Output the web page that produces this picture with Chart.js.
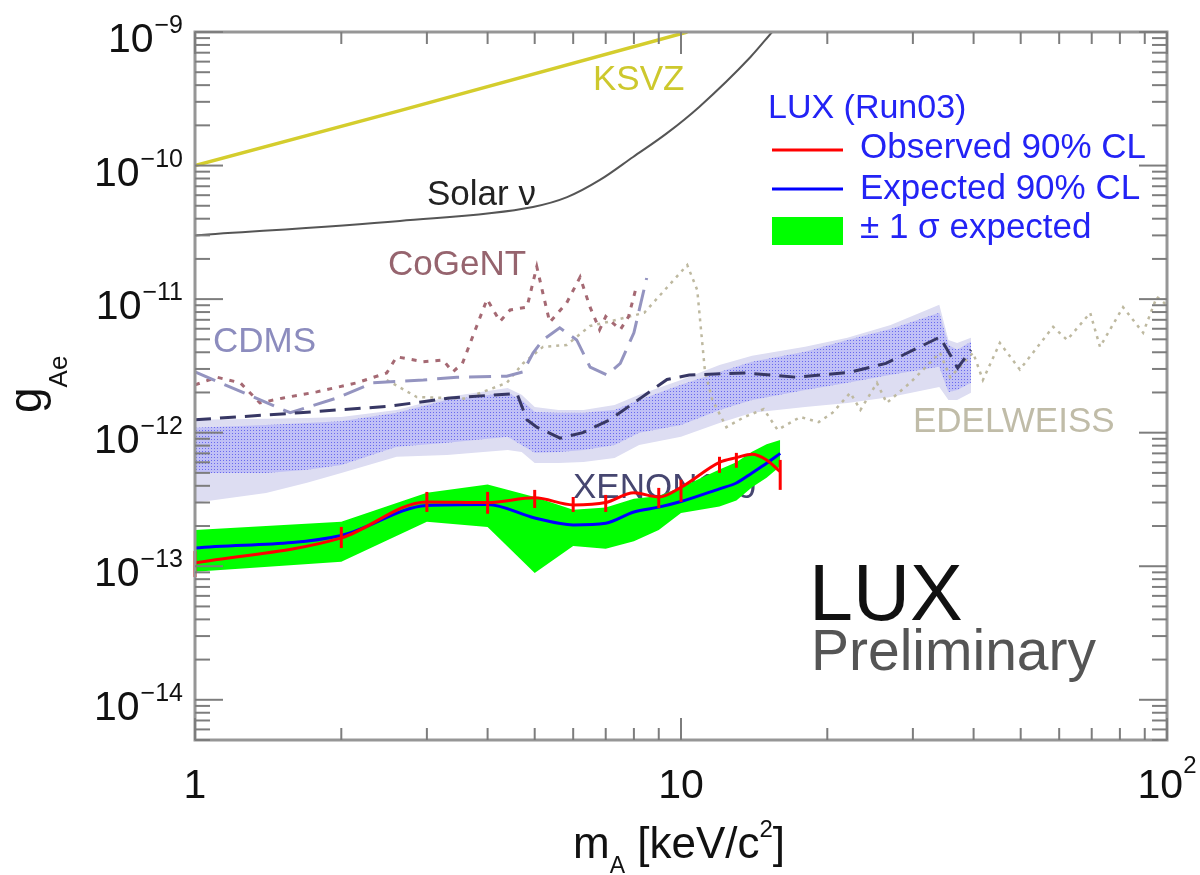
<!DOCTYPE html>
<html>
<head>
<meta charset="utf-8">
<script src="https://cdn.jsdelivr.net/npm/chart.js@4.4.0/dist/chart.umd.min.js"></script>
<style>
  html, body { margin: 0; padding: 0; background: #fff; }
  #wrap { width: 1200px; height: 875px; }
</style>
</head>
<body>
<div id="wrap"><canvas id="chart" width="1200" height="875"></canvas></div>
<script>
// values: mass m_A in keV/c^2, coupling g_Ae

// LUX Run03
const luxMass     = [1, 2, 3, 4, 5, 6, 7, 8, 9, 10, 12, 13, 14, 15, 16];
const luxObserved = [1.06e-13, 1.63e-13, 3.03e-13, 3.0e-13, 3.25e-13, 2.88e-13, 3.0e-13, 3.55e-13, 3.3e-13, 3.9e-13, 6.0e-13, 6.5e-13, 6.9e-13, 6.25e-13, 5.1e-13];
const luxObsLow   = [8.3e-14, 1.37e-13, 2.55e-13, 2.47e-13, 2.73e-13, 2.55e-13, 2.55e-13, null, 2.73e-13, 3.03e-13, 5.0e-13, 5.46e-13, null, null, 3.73e-13];
const luxObsHigh  = [1.30e-13, 1.97e-13, 3.6e-13, 3.6e-13, 3.73e-13, 3.3e-13, 3.42e-13, null, 3.86e-13, 4.44e-13, 6.6e-13, 7.06e-13, null, null, 6.25e-13];
const luxExpected = [1.37e-13, 1.7e-13, 2.85e-13, 2.9e-13, 2.3e-13, 2.04e-13, 2.1e-13, 2.55e-13, 2.77e-13, 3.05e-13, 3.8e-13, 4.2e-13, 5.0e-13, 5.9e-13, 7.0e-13];
const luxBandHigh = [1.87e-13, 2.15e-13, 3.55e-13, 4.1e-13, 3.3e-13, 2.65e-13, 2.75e-13, 3.2e-13, 3.35e-13, 3.9e-13, 5.3e-13, 6.0e-13, 7.2e-13, 8.2e-13, 8.8e-13];
const luxBandLow  = [9.1e-14, 1.08e-13, 2.15e-13, 1.97e-13, 8.9e-14, 1.42e-13, 1.35e-13, 1.54e-13, 1.87e-13, 2.5e-13, 2.8e-13, 3.1e-13, 3.9e-13, 4.6e-13, 5.6e-13];

// KSVZ and solar neutrino bound
const ksvzMass  = [1, 2.64, 10.3];
const ksvzG     = [1.0e-10, 2.58e-10, 1.0e-9];
const solarMass = [1, 2.64, 4.96, 5.83, 6.81, 7.97, 9.36, 10.9, 13.9, 15.4];
const solarG    = [3.0e-11, 3.85e-11, 4.9e-11, 5.8e-11, 7.8e-11, 1.16e-10, 1.75e-10, 2.75e-10, 6.5e-10, 1.0e-9];

// XENON100 limit and its bands
const xenonMass = [1, 1.64, 2.52, 3.35, 4.45, 4.6, 4.82, 5.05, 5.64, 6.28, 7.14, 8.16, 9.36, 10.4, 13.5, 17.3, 22.2, 26.4, 34.1, 37.1, 39.5];
const xenonG    = [1.25e-12, 1.41e-12, 1.58e-12, 1.82e-12, 1.95e-12, 1.95e-12, 1.25e-12, 1.1e-12, 9.1e-13, 1.0e-12, 1.25e-12, 1.76e-12, 2.5e-12, 2.7e-12, 2.8e-12, 2.6e-12, 2.83e-12, 3.3e-12, 5.2e-12, 3.05e-12, 4.17e-12];
const bandMass  = [1, 1.4, 1.7, 2, 2.6, 3.3, 4.4, 4.7, 5, 5.6, 6.3, 7.3, 8.2, 10, 12, 14, 18, 22, 27, 34, 35.5, 37, 39.5];
const outerHigh = [1.25e-12, 1.27e-12, 1.29e-12, 1.31e-12, 1.48e-12, 1.85e-12, 2.16e-12, 1.92e-12, 1.56e-12, 1.48e-12, 1.48e-12, 1.61e-12, 1.92e-12, 2.48e-12, 3.21e-12, 3.76e-12, 4.39e-12, 5.13e-12, 6.41e-12, 9.06e-12, 4.95e-12, 4.70e-12, 5.13e-12];
const outerLow  = [2.99e-13, 3.54e-13, 4.21e-13, 5.0e-13, 6.59e-13, 6.82e-13, 7.43e-13, 7.18e-13, 5.94e-13, 5.94e-13, 6.04e-13, 6.47e-13, 8.1e-13, 9.31e-13, 1.18e-12, 1.41e-12, 1.56e-12, 1.67e-12, 1.85e-12, 2.20e-12, 1.76e-12, 1.76e-12, 1.99e-12];
const innerHigh = [1.09e-12, 1.14e-12, 1.18e-12, 1.22e-12, 1.41e-12, 1.76e-12, 1.99e-12, 1.76e-12, 1.43e-12, 1.41e-12, 1.41e-12, 1.48e-12, 1.76e-12, 2.28e-12, 2.85e-12, 3.39e-12, 4.03e-12, 4.95e-12, 5.98e-12, 7.89e-12, 4.54e-12, 4.17e-12, 4.79e-12];
const innerLow  = [5.0e-13, 5.0e-13, 5.27e-13, 5.74e-13, 7.83e-13, 8.4e-13, 9.31e-13, 8.1e-13, 7.06e-13, 7.18e-13, 7.43e-13, 8.1e-13, 9.98e-13, 1.14e-12, 1.48e-12, 1.76e-12, 2.09e-12, 2.36e-12, 2.71e-12, 3.11e-12, 2.02e-12, 2.09e-12, 2.36e-12];

// CDMS, CoGeNT, EDELWEISS
const cdmsMass   = [1, 1.57, 1.96, 2.32, 2.95, 3.46, 4.38, 4.73, 4.96, 5.2, 5.63, 6.1, 6.5, 7.04, 7.5, 8.0, 8.5];
const cdmsG      = [2.85e-12, 1.41e-12, 1.82e-12, 2.36e-12, 2.48e-12, 2.6e-12, 2.65e-12, 2.85e-12, 3.95e-12, 4.95e-12, 6.1e-12, 4.95e-12, 3.1e-12, 2.71e-12, 3.3e-12, 5.6e-12, 1.44e-11];
const cogentMass = [1, 1.11, 1.24, 1.36, 1.52, 1.78, 2.15, 2.48, 2.6, 2.95, 3.24, 3.39, 3.55, 3.8, 3.99, 4.24, 4.45, 4.82, 5.05, 5.2, 5.37, 5.82, 6.2, 6.5, 6.8, 7.0, 7.5, 7.8, 8.1];
const cogentG    = [2.28e-12, 2.6e-12, 2.36e-12, 1.67e-12, 1.82e-12, 2.02e-12, 2.36e-12, 2.8e-12, 3.7e-12, 3.4e-12, 3.5e-12, 2.85e-12, 3.3e-12, 6.3e-12, 1.0e-11, 6.8e-12, 8.3e-12, 8.7e-12, 1.75e-11, 1.1e-11, 6.7e-12, 9.4e-12, 1.46e-11, 8.7e-12, 5.9e-12, 7.4e-12, 5.9e-12, 7.4e-12, 1.25e-11];
const edelMass   = [2.48, 2.86, 3.6, 4.38, 4.73, 5.2, 5.82, 6.5, 7.14, 8.4, 10.3, 10.8, 11.2, 11.6, 12.4, 13.5, 14.8, 15.8, 17.6, 19.2, 20.5, 22.3, 23.4, 25.3, 26.5, 29.6, 34.1, 35.8, 39.9, 41.8, 45.3, 49.8, 58.3, 62.3, 69.5, 72.8, 81.2, 89.3, 95.3, 100];
const edelG      = [2.48e-12, 1.85e-12, 1.8e-12, 2.36e-12, 3.3e-12, 4.39e-12, 4.54e-12, 6.3e-12, 6.8e-12, 7.9e-12, 1.8e-11, 1.17e-11, 2.9e-12, 1.76e-12, 1.1e-12, 1.31e-12, 1.5e-12, 1.05e-12, 1.31e-12, 1.2e-12, 1.41e-12, 1.99e-12, 1.48e-12, 2.36e-12, 1.67e-12, 2.36e-12, 3.97e-12, 2.6e-12, 3.97e-12, 2.48e-12, 4.7e-12, 2.97e-12, 6.2e-12, 4.95e-12, 7.89e-12, 4.39e-12, 8.7e-12, 5.6e-12, 1.04e-11, 9.0e-12];

// axis labels
const xLabelTicks = [1, 10, 100];
const xLabelText  = [['1', ''], ['10', ''], ['10', '2']];
const yLabelTicks = [1e-14, 1e-13, 1e-12, 1e-11, 1e-10, 1e-9];
const yLabelExp   = ['\u221214', '\u221213', '\u221212', '\u221211', '\u221210', '\u22129'];

const FONT = '"Liberation Sans", Arial, Helvetica, sans-serif';
const font = px => px + 'px ' + FONT;
const pts = (xs, ys) => xs.map((x, i) => ({x, y: ys[i]}));

const canvas = document.getElementById('chart');
const ctx = canvas.getContext('2d');

// dotted fill for the inner XENON band
const tile = document.createElement('canvas');
tile.width = 3; tile.height = 3;
const tc = tile.getContext('2d');
tc.fillStyle = 'rgb(192,192,246)'; tc.fillRect(0, 0, 3, 3);
tc.fillStyle = 'rgb(105,105,238)'; tc.fillRect(1, 1, 1, 1);
const dots = ctx.createPattern(tile, 'repeat');

const none = 'rgba(0,0,0,0)';

function line(c, x1, y1, x2, y2) {
  c.beginPath(); c.moveTo(x1, y1); c.lineTo(x2, y2); c.stroke();
}

// text with a raised or lowered small part, returns end x
function runText(c, parts, x, y) {
  parts.forEach(p => {
    c.font = font(p.size);
    c.fillText(p.t, x, y + (p.dy || 0));
    x += c.measureText(p.t).width + (p.gap || 0);
  });
  return x;
}
function runWidth(c, parts) {
  let w = 0;
  parts.forEach(p => { c.font = font(p.size); w += c.measureText(p.t).width + (p.gap || 0); });
  return w;
}

const decor = {
  id: 'decor',
  beforeDatasetsDraw(chart) {
    const c = chart.ctx;
    c.save();
    c.font = font(35);
    c.fillStyle = 'rgb(70,70,112)';
    c.fillText('XENON100', 573, 498);
    c.restore();
  },
  afterDatasetsDraw(chart) {
    const {ctx: c, chartArea: a, scales: {x, y}} = chart;
    c.save();

    // error bars on observed limit
    c.strokeStyle = '#ff0000';
    c.lineWidth = 3;
    luxMass.forEach((m, i) => {
      if (luxObsLow[i] == null) return;
      const px = x.getPixelForValue(m);
      line(c, px, y.getPixelForValue(luxObsLow[i]), px, y.getPixelForValue(luxObsHigh[i]));
    });

    // curve names
    c.textAlign = 'left';
    c.textBaseline = 'alphabetic';
    c.font = font(35);
    c.fillStyle = 'rgb(205,200,45)';  c.fillText('KSVZ', 593, 90);
    c.fillStyle = '#222';             c.fillText('Solar \u03bd', 427, 205);
    c.fillStyle = 'rgb(150,100,110)'; c.fillText('CoGeNT', 388, 275);
    c.fillStyle = 'rgb(140,140,190)'; c.fillText('CDMS', 213, 352);
    c.fillStyle = 'rgb(192,188,168)'; c.fillText('EDELWEISS', 913, 432);
    c.font = font(79);
    c.fillStyle = '#111';             c.fillText('LUX', 809, 620);
    c.font = font(57);
    c.fillStyle = '#555';             c.fillText('Preliminary', 811, 670);

    // frame
    c.strokeStyle = 'rgb(150,150,150)';
    c.lineWidth = 3;
    c.strokeRect(a.left, a.top, a.right - a.left, a.bottom - a.top);

    // inward ticks on all four sides
    c.strokeStyle = 'rgb(125,125,125)';
    c.lineWidth = 2;
    for (let e = 0; e <= 2; e++) {
      for (let k = 1; k <= 9; k++) {
        const v = k * Math.pow(10, e);
        if (v > 100.001) break;
        const px = x.getPixelForValue(v);
        const len = k === 1 ? 22 : 12;
        line(c, px, a.bottom, px, a.bottom - len);
        line(c, px, a.top, px, a.top + len);
      }
    }
    for (let e = -15; e <= -9; e++) {
      for (let k = 1; k <= 9; k++) {
        const v = k * Math.pow(10, e);
        if (v < 4.99e-15 || v > 1.001e-9) continue;
        const py = y.getPixelForValue(v);
        const len = k === 1 ? 28 : 15;
        line(c, a.left, py, a.left + len, py);
        line(c, a.right, py, a.right - len, py);
      }
    }

    // tick labels
    c.fillStyle = '#111';
    xLabelTicks.forEach((v, i) => {
      const parts = [{t: xLabelText[i][0], size: 41}];
      if (xLabelText[i][1]) parts.push({t: xLabelText[i][1], size: 24, dy: -25});
      const w = runWidth(c, parts);
      runText(c, parts, x.getPixelForValue(v) - w / 2, 798);
    });
    yLabelTicks.forEach((v, i) => {
      const py = y.getPixelForValue(v);
      const parts = [{t: '10', size: 41, gap: 1}, {t: yLabelExp[i], size: 25, dy: -19}];
      const w = runWidth(c, parts);
      runText(c, parts, a.left - 12 - w, py + 20);
    });

    // axis titles
    runText(c, [
      {t: 'm', size: 44}, {t: 'A', size: 23, dy: 15},
      {t: ' [keV/c', size: 44}, {t: '2', size: 24, dy: -21}, {t: ']', size: 44}
    ], 573, 858);
    c.save();
    c.translate(41, 413);
    c.rotate(-Math.PI / 2);
    runText(c, [{t: 'g', size: 46}, {t: 'Ae', size: 26, dy: 26}], 0, 0);
    c.restore();

    // legend
    c.fillStyle = 'rgb(35,35,245)';
    c.font = font(34);
    c.fillText('LUX (Run03)', 768, 118);
    c.font = font(35);
    c.fillText('Observed 90% CL', 860, 158);
    c.fillText('Expected 90% CL', 860, 199);
    c.fillText('\u00b1 1 \u03c3 expected', 860, 238);
    c.lineWidth = 3;
    c.strokeStyle = '#ff0000'; line(c, 772, 150, 843, 150);
    c.strokeStyle = '#0000ff'; line(c, 772, 189, 843, 189);
    c.fillStyle = '#00ff00';   c.fillRect(772, 217, 71, 28);

    c.restore();
  }
};

const chart = new Chart(ctx, {
  type: 'line',
  data: {
    datasets: [
      {label: 'Observed 90% CL', data: pts(luxMass, luxObserved), borderColor: '#ff0000', borderWidth: 3,
       cubicInterpolationMode: 'monotone', fill: false, order: 1},
      {label: 'Expected 90% CL', data: pts(luxMass, luxExpected), borderColor: '#0000ff', borderWidth: 3,
       cubicInterpolationMode: 'monotone', fill: false, order: 2},
      {label: '\u00b1 1 \u03c3 expected', data: pts(luxMass, luxBandHigh), borderColor: none, borderWidth: 0,
       backgroundColor: '#00ff00', fill: '+1', order: 3},
      {label: 'band low', data: pts(luxMass, luxBandLow), borderColor: none, borderWidth: 0, fill: false, order: 3},
      {label: 'KSVZ', data: pts(ksvzMass, ksvzG), borderColor: 'rgb(212,205,45)', borderWidth: 3.5, fill: false, order: 4},
      {label: 'Solar', data: pts(solarMass, solarG), borderColor: 'rgb(85,85,85)', borderWidth: 2,
       cubicInterpolationMode: 'monotone', fill: false, order: 4},
      {label: 'XENON100', data: pts(xenonMass, xenonG), borderColor: 'rgb(55,55,100)', borderWidth: 3,
       borderDash: [16, 9], fill: false, order: 5},
      {label: 'CDMS', data: pts(cdmsMass, cdmsG), borderColor: 'rgb(148,148,192)', borderWidth: 3,
       borderDash: [22, 10], fill: false, order: 5},
      {label: 'CoGeNT', data: pts(cogentMass, cogentG), borderColor: 'rgb(165,105,115)', borderWidth: 3,
       borderDash: [5, 7], fill: false, order: 5},
      {label: 'EDELWEISS', data: pts(edelMass, edelG), borderColor: 'rgb(190,185,160)', borderWidth: 2.5,
       borderDash: [3, 5], fill: false, order: 5},
      {label: 'inner high', data: pts(bandMass, innerHigh), borderColor: none, borderWidth: 0,
       backgroundColor: dots, fill: '+1', order: 8},
      {label: 'inner low', data: pts(bandMass, innerLow), borderColor: none, borderWidth: 0, fill: false, order: 8},
      {label: 'outer high', data: pts(bandMass, outerHigh), borderColor: none, borderWidth: 0,
       backgroundColor: 'rgb(221,221,242)', fill: '+1', order: 9},
      {label: 'outer low', data: pts(bandMass, outerLow), borderColor: none, borderWidth: 0, fill: false, order: 9}
    ]
  },
  options: {
    responsive: false,
    animation: false,
    events: [],
    layout: {padding: {left: 195, top: 32, right: 33, bottom: 135}},
    elements: {point: {radius: 0}, line: {tension: 0}},
    scales: {
      x: {type: 'logarithmic', min: 1, max: 100, display: false},
      y: {type: 'logarithmic', min: 5e-15, max: 1e-9, display: false}
    },
    plugins: {legend: {display: false}, tooltip: {enabled: false}}
  },
  plugins: [decor]
});
</script>
</body>
</html>
